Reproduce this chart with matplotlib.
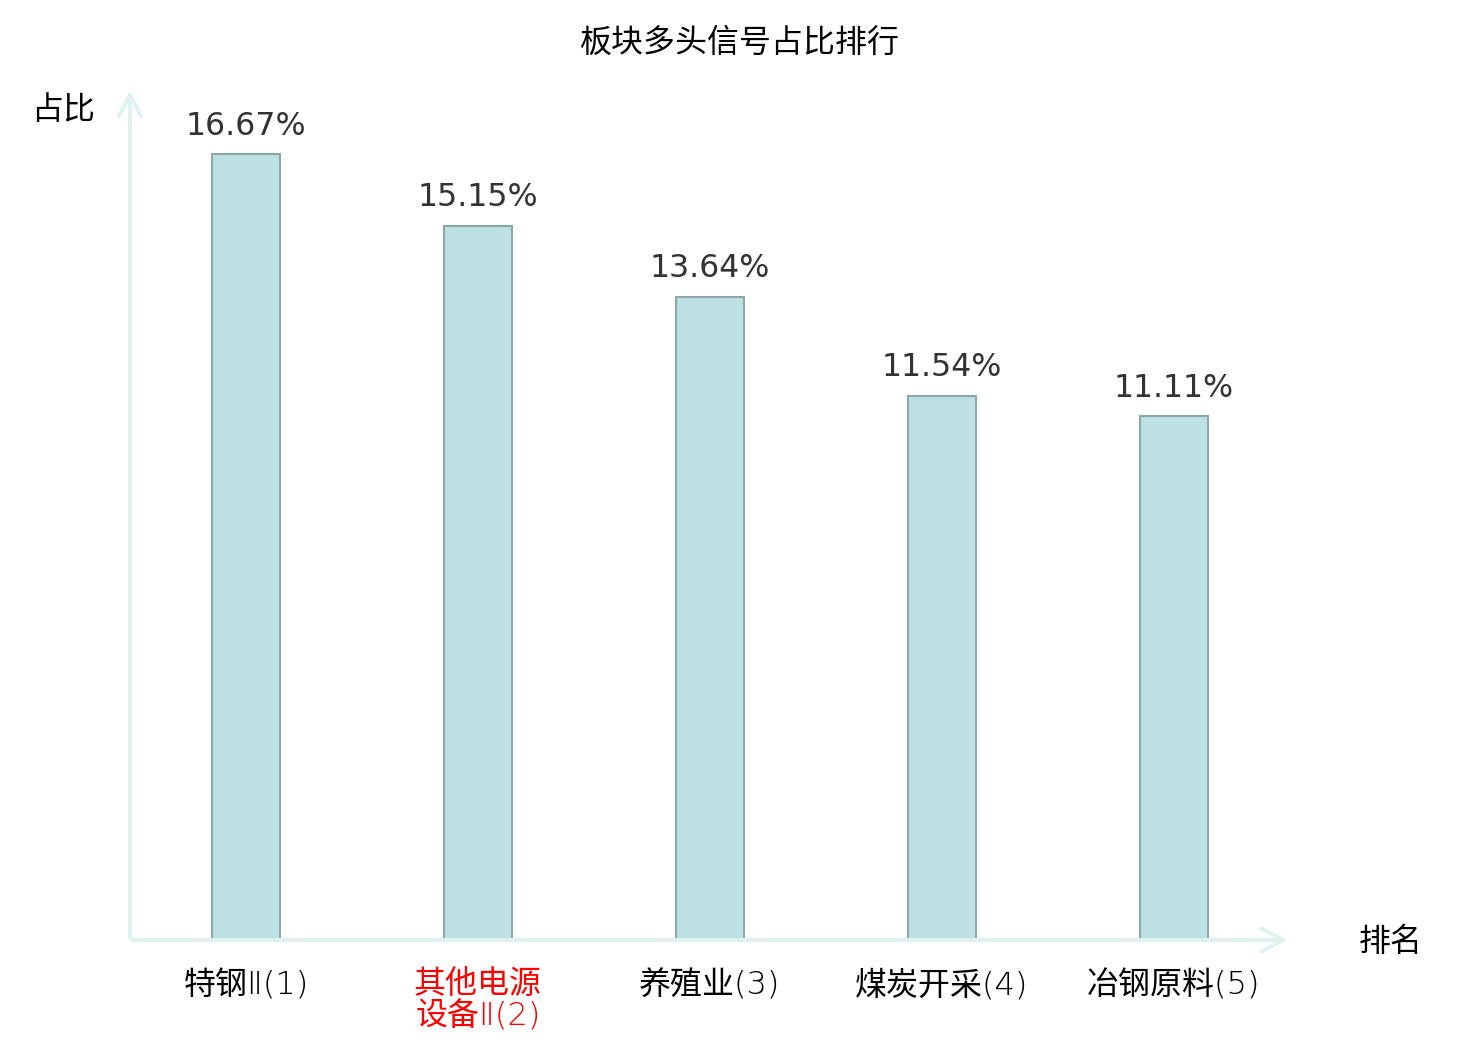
import matplotlib
matplotlib.use("Agg")
import matplotlib.pyplot as plt
import numpy as np

plt.rcParams['font.family'] = ['Noto Sans CJK SC', 'DejaVu Sans']

# ---------------- data ----------------
sectors = ["特钢Ⅱ(1)", "其他电源\n设备Ⅱ(2)", "养殖业(3)", "煤炭开采(4)", "冶钢原料(5)"]
ratios = [16.67, 15.15, 13.64, 11.54, 11.11]
highlight = [False, True, False, False, False]

# ---------------- plot ----------------
fig = plt.figure(figsize=(14.8, 10.4), dpi=100)
ax = fig.add_axes([130 / 1480, 100 / 1040, 1160 / 1480, 852 / 1040])

x = np.arange(len(sectors))
ax.bar(x, ratios, width=0.29, color='#bce0e3', edgecolor='#8ea8a8', linewidth=1.5)

for xi, v in zip(x, ratios):
    ax.annotate(f'{v:.2f}%', xy=(xi, v), xytext=(0, 9), textcoords='offset points',
                ha='center', va='bottom', fontsize=22.8, color='#333333',
                family='DejaVu Sans')

ax.set_xlim(-0.5, 4.5)
ax.set_ylim(0, 18.07)
for s in ax.spines.values():
    s.set_visible(False)
ax.set_yticks([])
ax.set_xticks(x)
ax.set_xticklabels(sectors, fontsize=23, linespacing=1.05,
                   family=['DejaVu Sans', 'Noto Sans CJK SC'], weight='light')
ax.tick_params(axis='x', length=0, pad=21)
for lbl, hl in zip(ax.get_xticklabels(), highlight):
    lbl.set_color('red' if hl else 'black')
    lbl.set_va('top')

# axis arrows
axis_color = '#dff2f0'
arrow = dict(arrowstyle='->,head_length=1.5,head_width=0.8', color=axis_color, lw=3)
ax.annotate('', xy=(0, 1), xytext=(0, 0), xycoords='axes fraction',
            arrowprops=arrow, annotation_clip=False)
ax.annotate('', xy=(1, 0), xytext=(0, 0), xycoords='axes fraction',
            arrowprops=arrow, annotation_clip=False)

fig.text(63 / 1480, 1 - 110 / 1040, "占比", ha='center', va='center', fontsize=23)
fig.text(1391 / 1480, 1 - 942 / 1040, "排名", ha='center', va='center', fontsize=23)
fig.text(740 / 1480, 1 - 43 / 1040, "板块多头信号占比排行", ha='center', va='center', fontsize=23)

plt.savefig("out.png", dpi=100)
